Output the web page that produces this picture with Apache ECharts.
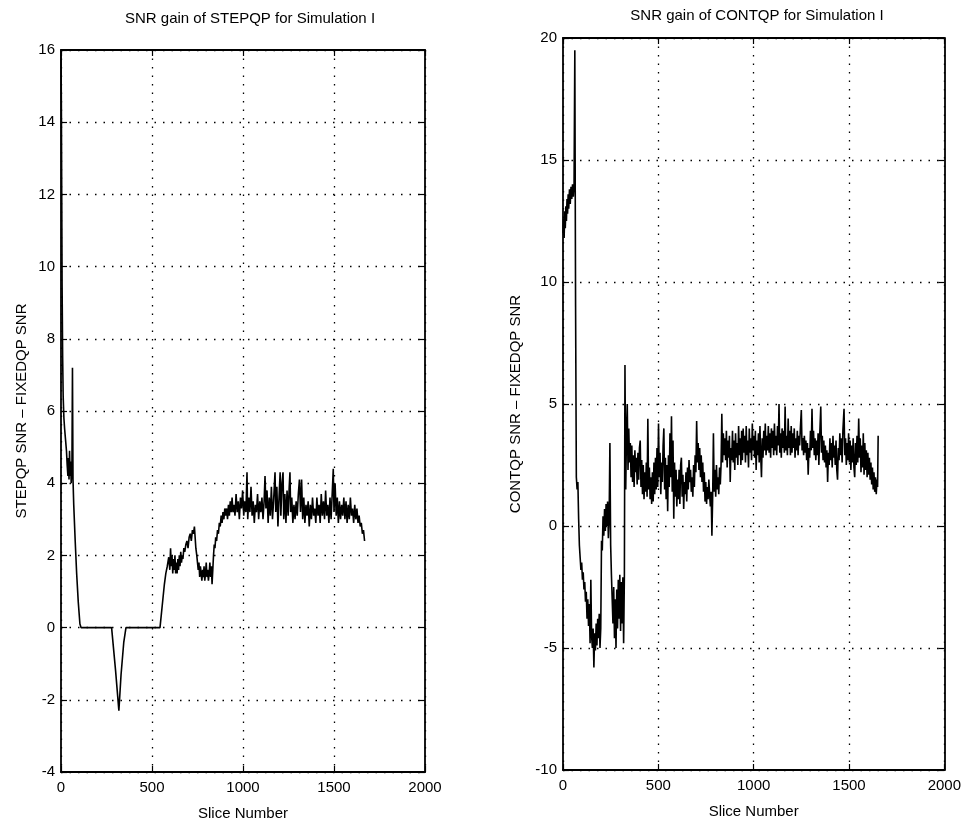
<!DOCTYPE html>
<html>
<head>
<meta charset="utf-8">
<script src="https://cdn.jsdelivr.net/npm/echarts@6/dist/echarts.min.js"></script>
<style>html,body{margin:0;padding:0;background:#fff}#c{width:964px;height:830px}</style>
</head>
<body>
<div id="c"></div>
<script>
const xTicks = [0, 500, 1000, 1500, 2000];
const stepTicks = [-4, -2, 0, 2, 4, 6, 8, 10, 12, 14, 16];
const contTicks = [-10, -5, 0, 5, 10, 15, 20];

const stepSlices = [0,2,4,6,9,12,16,20,25,30,34,38,41,44,47,50,53,56,60,63,66,70,78,86,95,104,110,278,300,318,330,345,357,544,552,560,568,576,584,592,598,602,606,610,614,618,622,626,630,634,638,642,646,650,654,658,662,666,670,675,680,686,692,698,704,710,716,722,728,733,737,741,746,750,754,758,762,766,770,774,778,782,786,790,794,798,802,806,810,814,818,822,826,830,834,838,842,846,850,855,860,865,870,875,880,885,890,895,900,905,910,915,920,925,930,935,940,945,950,956,962,968,974,980,986,992,998,1004,1010,1016,1022,1026,1032,1038,1044,1050,1056,1062,1068,1074,1080,1086,1092,1098,1104,1110,1116,1121,1126,1132,1138,1144,1150,1156,1162,1168,1176,1180,1186,1192,1198,1204,1208,1214,1220,1224,1230,1236,1242,1248,1254,1258,1262,1268,1274,1280,1286,1292,1298,1304,1310,1316,1322,1328,1334,1340,1346,1352,1358,1364,1370,1376,1382,1388,1394,1400,1406,1412,1418,1424,1430,1436,1442,1448,1454,1460,1466,1472,1478,1484,1490,1496,1500,1506,1512,1518,1524,1530,1536,1542,1548,1554,1560,1566,1572,1578,1584,1590,1596,1602,1608,1614,1620,1626,1632,1638,1644,1650,1656,1662,1668];
const stepGain = [16,14.5,12,9.5,7.5,6.4,5.8,5.5,5.2,4.9,4.5,4.2,4.7,4.1,4.9,4.2,4.6,4.0,4.4,7.2,4.1,3.4,2.4,1.5,0.7,0.1,0,0,-1.2,-2.3,-1.3,-0.4,0,0,0.4,0.8,1.2,1.5,1.7,1.95,1.6,2.2,1.7,2.0,1.5,1.9,1.6,2.0,1.5,1.8,1.5,1.9,1.6,2.0,1.7,2.1,1.8,2.0,1.9,2.2,2.1,2.3,2.4,2.2,2.5,2.6,2.4,2.7,2.6,2.8,2.5,2.2,2.0,1.8,1.6,1.8,1.4,1.7,1.5,1.3,1.6,1.4,1.7,1.3,1.5,1.8,1.4,1.6,1.3,1.5,1.8,1.4,1.7,1.2,1.6,2.0,2.3,2.2,2.5,2.4,2.7,2.6,2.9,2.8,3.1,2.9,3.2,3.0,3.3,3.1,3.3,3.0,3.4,3.1,3.5,3.2,3.6,3.2,3.4,3.1,3.7,3.2,3.5,3.0,3.6,3.3,3.8,3.1,3.5,3.2,4.3,3.0,3.6,3.2,3.9,3.1,3.5,2.9,3.4,3.2,3.7,3.0,3.5,3.2,3.6,3.0,3.5,4.2,3.3,3.8,2.9,3.6,3.1,3.9,3.0,3.5,4.3,3.2,3.9,2.8,3.6,4.3,3.1,4.0,4.3,3.0,3.7,2.9,3.8,3.1,3.9,4.3,3.2,3.6,2.9,3.4,3.0,3.5,3.1,3.7,4.1,3.2,4.1,3.0,3.6,2.9,3.4,3.1,3.5,2.8,3.4,3.0,3.6,3.1,3.3,2.9,3.6,3.1,3.4,2.9,3.7,3.1,3.5,3.0,3.8,3.1,3.4,2.9,3.6,3.0,3.7,4.4,3.2,4.0,3.1,3.6,2.9,3.5,3.0,3.4,3.1,3.6,3.0,3.5,2.9,3.4,3.0,3.6,3.1,3.3,2.9,3.4,3.0,3.3,2.9,3.1,2.8,2.9,2.6,2.7,2.4];

const contSlices = [0,3,6,9,12,15,18,21,24,27,30,34,38,42,46,50,54,58,62,66,70,74,78,82,86,90,94,98,102,106,110,114,118,122,126,130,134,138,142,146,150,154,158,162,166,170,174,178,182,186,190,194,198,202,206,210,214,218,222,226,230,234,238,242,246,250,254,258,262,266,270,274,278,282,286,290,294,298,302,306,310,314,318,322,325,329,333,337,341,345,349,353,357,361,365,369,373,377,381,385,389,393,397,401,405,409,413,417,421,425,429,433,437,441,445,449,453,457,461,465,469,473,477,481,485,489,493,497,501,505,509,513,517,521,525,529,533,537,541,545,549,553,557,561,565,569,573,577,581,585,589,593,597,601,605,609,613,617,621,625,629,633,637,641,645,649,653,657,661,665,669,673,677,681,685,689,693,697,701,705,709,713,717,721,725,729,733,737,741,745,749,753,757,761,765,769,773,777,781,785,789,793,797,801,805,809,813,817,821,825,829,833,837,841,845,849,853,857,861,865,869,873,877,881,885,889,893,897,901,905,909,913,917,921,925,929,933,937,941,945,949,953,957,961,965,969,973,977,981,985,989,993,997,1001,1005,1009,1013,1017,1021,1025,1029,1033,1037,1041,1045,1049,1053,1057,1061,1065,1069,1073,1077,1081,1085,1089,1093,1097,1101,1105,1109,1113,1117,1121,1125,1129,1133,1137,1141,1145,1149,1153,1157,1161,1165,1169,1173,1177,1181,1185,1189,1193,1197,1201,1205,1209,1213,1217,1221,1225,1229,1233,1237,1241,1245,1250,1254,1258,1262,1266,1270,1274,1278,1282,1286,1290,1294,1298,1302,1306,1310,1314,1318,1322,1326,1330,1334,1338,1342,1346,1352,1356,1360,1364,1368,1372,1376,1380,1384,1388,1392,1396,1400,1404,1408,1412,1416,1420,1424,1428,1432,1436,1440,1444,1448,1452,1456,1460,1464,1468,1474,1478,1482,1486,1490,1494,1498,1502,1506,1510,1514,1518,1522,1526,1530,1534,1538,1542,1546,1551,1555,1559,1563,1567,1571,1575,1579,1583,1587,1591,1595,1599,1603,1607,1611,1615,1619,1623,1627,1631,1635,1639,1643,1647,1650,1653];
const contGain = [12.0,12.6,11.8,12.9,12.2,13.1,12.5,13.4,12.8,13.6,13.0,13.8,13.2,13.9,13.4,14.0,13.5,14.0,19.5,9.0,2.0,1.5,1.8,0.3,-0.8,-1.3,-1.8,-1.5,-2.2,-1.9,-2.6,-2.3,-3.1,-2.7,-3.8,-3.0,-4.1,-3.2,-4.8,-2.2,-4.5,-5.0,-4.2,-5.8,-4.4,-5.1,-4.0,-4.9,-3.8,-4.6,-3.6,-5.0,-4.2,-0.6,-1.0,0.4,-0.4,0.7,-0.2,0.9,0.0,1.0,-0.5,0.3,3.4,-0.8,-2.0,-3.0,-4.0,-2.5,-4.6,-3.0,-5.0,-2.6,-4.2,-2.2,-3.8,-2.0,-4.3,-2.3,-4.0,-2.1,-4.8,-2.0,6.6,1.5,3.8,5.0,2.3,4.0,2.6,3.4,2.0,3.3,1.8,2.9,1.6,3.1,2.2,2.8,1.7,3.0,1.9,3.2,3.5,1.6,2.7,1.3,2.5,1.1,2.2,1.4,2.6,1.2,4.4,1.5,2.4,1.1,2.0,0.9,2.2,1.0,2.6,1.3,2.8,1.5,3.2,1.6,4.2,2.0,3.0,1.3,2.6,1.8,3.3,4.0,1.5,2.8,1.1,2.5,0.6,2.9,1.6,3.8,2.0,4.5,1.4,3.5,0.3,2.6,1.2,2.3,0.8,1.9,1.1,2.3,0.9,2.5,2.8,1.2,2.1,0.7,1.8,1.3,2.2,1.0,2.4,1.5,2.7,1.8,2.3,1.4,2.0,1.2,2.5,1.6,2.9,2.2,4.3,2.6,3.4,2.3,3.2,2.0,2.9,1.8,2.6,1.4,2.2,1.0,1.8,0.9,1.6,1.1,1.9,1.3,0.8,1.4,-0.4,1.2,3.8,1.4,2.3,1.2,2.5,1.5,2.0,1.3,2.4,1.7,2.5,4.6,2.6,3.8,2.9,3.6,2.7,3.9,2.4,3.5,2.8,3.7,1.8,3.2,2.7,3.9,2.6,3.5,2.3,3.8,2.8,3.4,2.5,4.1,2.9,3.6,2.5,3.9,2.7,4.0,3.0,3.7,2.6,4.1,2.9,3.5,2.4,4.0,3.0,3.6,2.7,4.2,3.1,3.7,2.8,3.9,2.3,3.5,2.9,3.8,2.6,4.1,2.9,2.0,3.6,2.8,3.9,3.1,4.2,2.9,3.7,3.1,4.1,3.0,3.8,2.8,4.0,3.2,3.9,2.9,4.2,3.1,3.7,2.9,4.1,3.3,5.0,3.0,3.8,2.8,4.0,3.2,3.9,3.0,4.9,3.1,3.7,2.9,4.4,3.2,3.9,2.9,4.1,3.0,3.8,3.2,4.0,2.8,3.6,3.1,3.9,2.9,3.7,3.3,4.0,4.75,3.1,3.6,2.9,3.7,3.0,3.5,2.7,3.4,2.1,3.2,2.8,3.9,3.1,4.8,3.2,3.9,2.9,3.6,2.7,3.5,2.9,3.8,2.5,3.6,4.9,3.0,3.7,2.7,3.5,2.6,3.3,2.4,3.1,1.8,3.0,2.5,3.6,2.7,3.4,2.4,3.7,2.8,3.3,2.5,3.5,2.3,1.9,3.2,2.7,3.8,2.9,3.6,2.6,3.9,4.8,2.9,3.6,2.5,3.4,2.7,3.8,2.6,3.5,2.3,3.3,2.6,3.6,2.4,2.0,3.4,2.5,3.7,2.6,4.4,2.8,3.6,2.2,3.3,2.4,3.8,2.1,3.4,2.3,3.1,2.0,3.0,2.1,2.8,1.9,2.6,1.7,2.4,1.5,2.2,1.4,2.0,1.3,1.9,1.6,3.7];

function pairs(xs, ys) { return xs.map((x, i) => [x, ys[i]]); }

const FONT = '"Liberation Sans", Arial, sans-serif';
const gridLine = { show: true, lineStyle: { color: '#000', type: [1.5, 7], width: 1.3 } };
const axLine = { show: true, onZero: false, lineStyle: { color: '#000', width: 1.8 } };
const tick = { show: true, inside: true, length: 6, lineStyle: { color: '#000', width: 1.2 } };
const lbl = { color: '#000', fontFamily: FONT, fontSize: 15, formatter: v => String(v) };

function mainX(gi) {
  return { type: 'value', gridIndex: gi, min: xTicks[0], max: xTicks[xTicks.length - 1], interval: 500,
    name: 'Slice Number', nameLocation: 'middle', nameGap: 34,
    nameTextStyle: { color: '#000', fontFamily: FONT, fontSize: 15 },
    axisLine: axLine, axisTick: tick, splitLine: gridLine, axisLabel: Object.assign({ margin: 8 }, lbl) };
}
function topX(gi) {
  return { type: 'value', gridIndex: gi, position: 'top', min: xTicks[0], max: xTicks[xTicks.length - 1], interval: 500,
    axisLine: axLine, axisTick: tick, splitLine: { show: false }, axisLabel: { show: false } };
}
function mainY(gi, ticks, interval, name, gap) {
  return { type: 'value', gridIndex: gi, min: ticks[0], max: ticks[ticks.length - 1], interval: interval,
    name: name, nameLocation: 'middle', nameGap: gap, nameRotate: 90,
    nameTextStyle: { color: '#000', fontFamily: FONT, fontSize: 15 },
    axisLine: axLine, axisTick: tick, splitLine: gridLine, axisLabel: Object.assign({ margin: 6 }, lbl) };
}
function rightY(gi, ticks, interval) {
  return { type: 'value', gridIndex: gi, position: 'right', min: ticks[0], max: ticks[ticks.length - 1], interval: interval,
    axisLine: axLine, axisTick: tick, splitLine: { show: false }, axisLabel: { show: false } };
}

const chart = echarts.init(document.getElementById('c'), null, { renderer: 'canvas' });
chart.setOption({
  animation: false,
  backgroundColor: '#fff',
  title: [
    { text: 'SNR gain of STEPQP for Simulation I', left: 245, top: 6, textAlign: 'center',
      textStyle: { color: '#000', fontFamily: FONT, fontSize: 15, fontWeight: 'normal' } },
    { text: 'SNR gain of CONTQP for Simulation I', left: 752, top: 3, textAlign: 'center',
      textStyle: { color: '#000', fontFamily: FONT, fontSize: 15, fontWeight: 'normal' } }
  ],
  grid: [
    { left: 61, top: 50, width: 364, height: 722 },
    { left: 563, top: 38, width: 392, height: 732 }
  ],
  xAxis: [mainX(0), topX(0), mainX(1), topX(1)],
  yAxis: [
    mainY(0, stepTicks, 2, 'STEPQP SNR \u2013 FIXEDQP SNR', 32),
    rightY(0, stepTicks, 2),
    mainY(1, contTicks, 5, 'CONTQP SNR \u2013 FIXEDQP SNR', 40),
    rightY(1, contTicks, 5)
  ],
  series: [
    { type: 'line', xAxisIndex: 0, yAxisIndex: 0, data: pairs(stepSlices, stepGain), showSymbol: false,
      lineStyle: { color: '#000', width: 1.6 }, silent: true },
    { type: 'line', xAxisIndex: 2, yAxisIndex: 2, data: pairs(contSlices, contGain), showSymbol: false,
      lineStyle: { color: '#000', width: 1.6 }, silent: true }
  ]
});
</script>
</body>
</html>
